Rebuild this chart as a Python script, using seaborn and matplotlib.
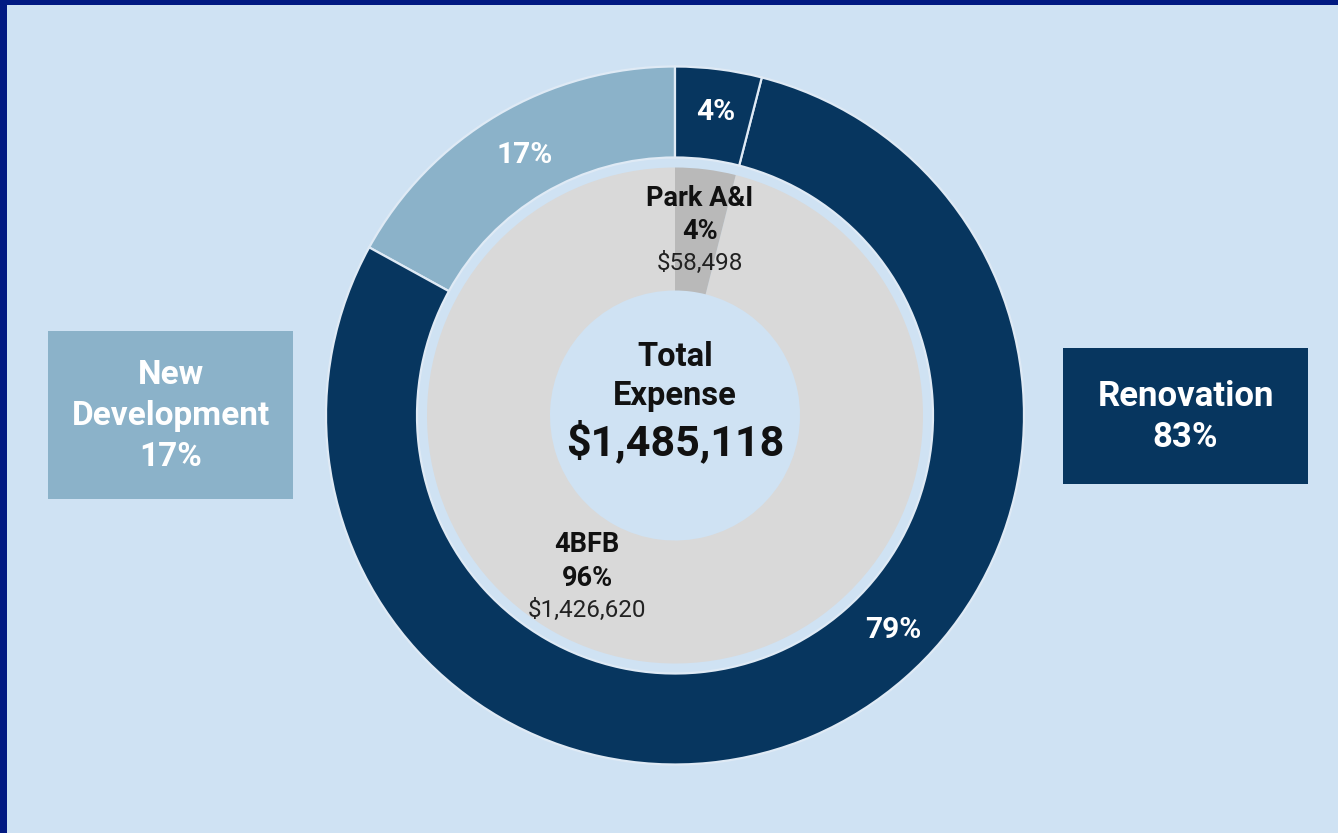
import matplotlib
matplotlib.use("Agg")
import matplotlib.pyplot as plt
import seaborn as sns
from matplotlib.patches import Rectangle

# --- data ---
outer_names = ["New Development", "Renovation", "Renovation"]
outer_pct = [17, 79, 4]
inner_names = ["4BFB", "Park A&I"]
inner_values = [1426620, 58498]
group_names = ["New Development", "Renovation"]
group_pct = [17, 83]

total = sum(inner_values)
inner_pct = [round(v / total * 100) for v in inner_values]

# --- style ---
bg = "#cfe2f3"
navy = "#07365f"
steel = "#8bb2c9"
border = "#021a82"
gray_lt = "#d9d9d9"
gray_dk = "#b9b9b9"

sns.set_style("white")
plt.rcParams["font.family"] = ["Roboto", "DejaVu Sans"]

W, H = 1338, 833
fig = plt.figure(figsize=(W / 100, H / 100), dpi=100, facecolor=bg)
ax = fig.add_axes([0, 0, 1, 1])


def px(x, y):
    # pixel coords (top-left origin) -> data coords
    return x, H - y


cx, cy = px(675, 415.5)

outer_colors = [steel if n == "New Development" else navy for n in outer_names]
ax.pie(outer_pct, radius=349, center=(cx, cy), startangle=90, counterclock=True,
       colors=outer_colors, frame=True,
       wedgeprops=dict(width=91, edgecolor="#dfeaf5", linewidth=1.6))

inner_colors = [gray_lt, gray_dk]
ax.pie(inner_values, radius=248, center=(cx, cy), startangle=90, counterclock=True,
       colors=inner_colors, frame=True,
       wedgeprops=dict(width=123, linewidth=0))

# outer ring percentages
outer_pos = [(525, 155), (893, 630), (716, 112)]
for p, (x, y) in zip(outer_pct, outer_pos):
    ax.text(*px(x, y), f"{p}%", color="white", fontsize=21.5, fontweight="bold",
            ha="center", va="center")

# inner ring labels
inner_pos = [(587, 545), (700, 198)]
for name, p, v, (x, y) in zip(inner_names, inner_pct, inner_values, inner_pos):
    ax.text(*px(x, y), name, color="#111111", fontsize=19.5, fontweight="bold",
            ha="center", va="center")
    ax.text(*px(x, y + 33), f"{p}%", color="#111111", fontsize=19.5, fontweight="bold",
            ha="center", va="center")
    ax.text(*px(x, y + 65), f"${v:,}", color="#222222", fontsize=17.5,
            ha="center", va="center")

# centre
ax.text(*px(675, 357), "Total", color="#111111", fontsize=23.5,
        fontweight="bold", ha="center", va="center")
ax.text(*px(675, 396), "Expense", color="#111111", fontsize=23.5,
        fontweight="bold", ha="center", va="center")
ax.text(*px(675, 442), f"${total:,}", color="#111111", fontsize=31,
        fontweight="bold", ha="center", va="center")

# side boxes
boxes = {
    "New Development": dict(xy=(48, 499), w=245, h=168, color=steel, size=24,
                            lines=[(375, "New"), (416, "Development")]),
    "Renovation": dict(xy=(1063, 484), w=245, h=136, color=navy, size=25,
                       lines=[(396, "Renovation")]),
}
for name, p in zip(group_names, group_pct):
    b = boxes[name]
    ax.add_patch(Rectangle(px(*b["xy"]), b["w"], b["h"], facecolor=b["color"],
                           edgecolor="none"))
    xc = b["xy"][0] + b["w"] / 2
    y = 0
    for y, txt in b["lines"]:
        ax.text(*px(xc, y), txt, color="white", fontsize=b["size"],
                fontweight="bold", ha="center", va="center")
    ax.text(*px(xc, y + 41), f"{p}%", color="white", fontsize=b["size"],
            fontweight="bold", ha="center", va="center")

# frame edges (top and left)
ax.add_patch(Rectangle((0, H - 5), W, 5, facecolor=border, edgecolor="none"))
ax.add_patch(Rectangle((0, 0), 7, H, facecolor=border, edgecolor="none"))

ax.set_xlim(0, W)
ax.set_ylim(0, H)
ax.set_aspect("equal")
ax.axis("off")

fig.savefig("out.png", dpi=100, facecolor=bg)
